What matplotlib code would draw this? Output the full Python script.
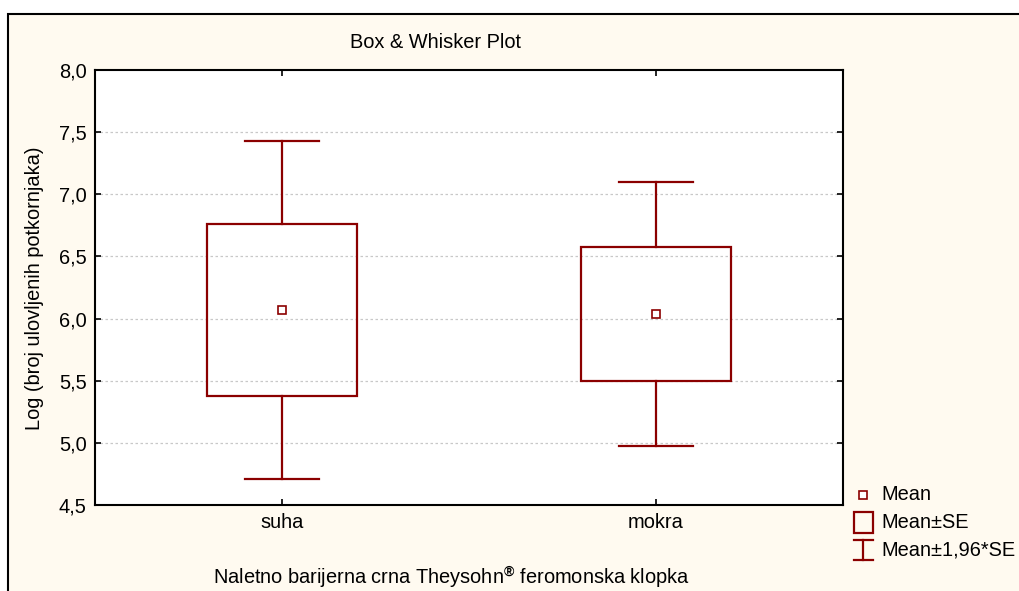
import matplotlib
matplotlib.use('Agg')
import matplotlib.pyplot as plt
from matplotlib.patches import Rectangle
from matplotlib.ticker import FuncFormatter

plt.rcParams['font.family'] = ['Liberation Sans', 'DejaVu Sans']
plt.rcParams['mathtext.fontset'] = 'custom'
plt.rcParams['mathtext.rm'] = 'Liberation Sans'
plt.rcParams['mathtext.bf'] = 'Liberation Sans:bold'

# group means and standard errors of log catch
groups = ['suha', 'mokra']
means = [6.069, 6.037]
se = [0.692, 0.542]
z = 1.96

dark_red = '#8B0000'
cream = '#FFFAF0'
fs = 14.4

W, H = 1019, 591
fig = plt.figure(figsize=(W / 100, H / 100), dpi=100)
fig.patch.set_facecolor('white')

# background panel with frame, pixel coordinates
bg = fig.add_axes([0, 0, 1, 1])
bg.set_xlim(0, W)
bg.set_ylim(H, 0)
bg.axis('off')
bg.add_patch(Rectangle((8, 14), W + 20, H + 20, facecolor=cream,
                       edgecolor='black', linewidth=1.5))

ax = fig.add_axes([95 / W, (H - 505) / H, 748 / W, 435 / H])
ax.set_facecolor('white')
ax.set_xlim(0.5, 2.5)
ax.set_ylim(4.5, 8.0)

box_w = 0.4
cap_w = 0.2
for i, (m, s) in enumerate(zip(means, se)):
    x = i + 1
    lo, hi = m - s, m + s
    wlo, whi = m - z * s, m + z * s
    ax.add_patch(Rectangle((x - box_w / 2, lo), box_w, hi - lo, facecolor='none',
                           edgecolor=dark_red, linewidth=1.6, zorder=3))
    ax.plot([x, x], [hi, whi], color=dark_red, lw=1.6, zorder=3)
    ax.plot([x, x], [wlo, lo], color=dark_red, lw=1.6, zorder=3)
    ax.plot([x - cap_w / 2, x + cap_w / 2], [whi, whi], color=dark_red, lw=1.6, zorder=3)
    ax.plot([x - cap_w / 2, x + cap_w / 2], [wlo, wlo], color=dark_red, lw=1.6, zorder=3)
    ax.plot([x], [m], marker='s', ms=6, mfc='white', mec=dark_red, mew=1.2, zorder=4)

ax.set_xticks([1, 2])
ax.set_xticklabels(groups)
ax.set_yticks([4.5, 5.0, 5.5, 6.0, 6.5, 7.0, 7.5, 8.0])
ax.yaxis.set_major_formatter(FuncFormatter(lambda v, p: f'{v:.1f}'.replace('.', ',')))
ax.tick_params(direction='in', length=4, width=1.2, top=True, right=True,
               labelsize=fs, pad=6)
for v in [5.0, 5.5, 6.0, 6.5, 7.0, 7.5]:
    ax.axhline(v, color='#c8c8c8', lw=0.9, ls=(0, (2, 2)), zorder=1)
for sp in ax.spines.values():
    sp.set_linewidth(1.5)

fig.text(435 / W, 1 - 43 / H, 'Box & Whisker Plot', ha='center', va='center', fontsize=fs)
fig.text(35 / W, 1 - 288 / H, 'Log (broj ulovljenih potkornjaka)', ha='center', va='center',
         rotation=90, fontsize=fs)
fig.text(451 / W, 1 - 578 / H, r'Naletno barijerna crna Theysohn$^{\mathbf{®}}$ feromonska klopka',
         ha='center', va='center', fontsize=fs)

# legend
bg.plot([863], [495], marker='s', ms=6, mfc='white', mec=dark_red, mew=1.2)
bg.text(881, 495, 'Mean', va='center', fontsize=fs)
bg.add_patch(Rectangle((854, 512), 19, 21, facecolor='none', edgecolor=dark_red, lw=1.6))
bg.text(881, 523, 'Mean±SE', va='center', fontsize=fs)
bg.plot([863, 863], [540, 560], color=dark_red, lw=1.6)
bg.plot([854, 873], [540, 540], color=dark_red, lw=1.6)
bg.plot([854, 873], [560, 560], color=dark_red, lw=1.6)
bg.text(881, 550, 'Mean±1,96*SE', va='center', fontsize=fs)

fig.savefig('out.png', dpi=100)
